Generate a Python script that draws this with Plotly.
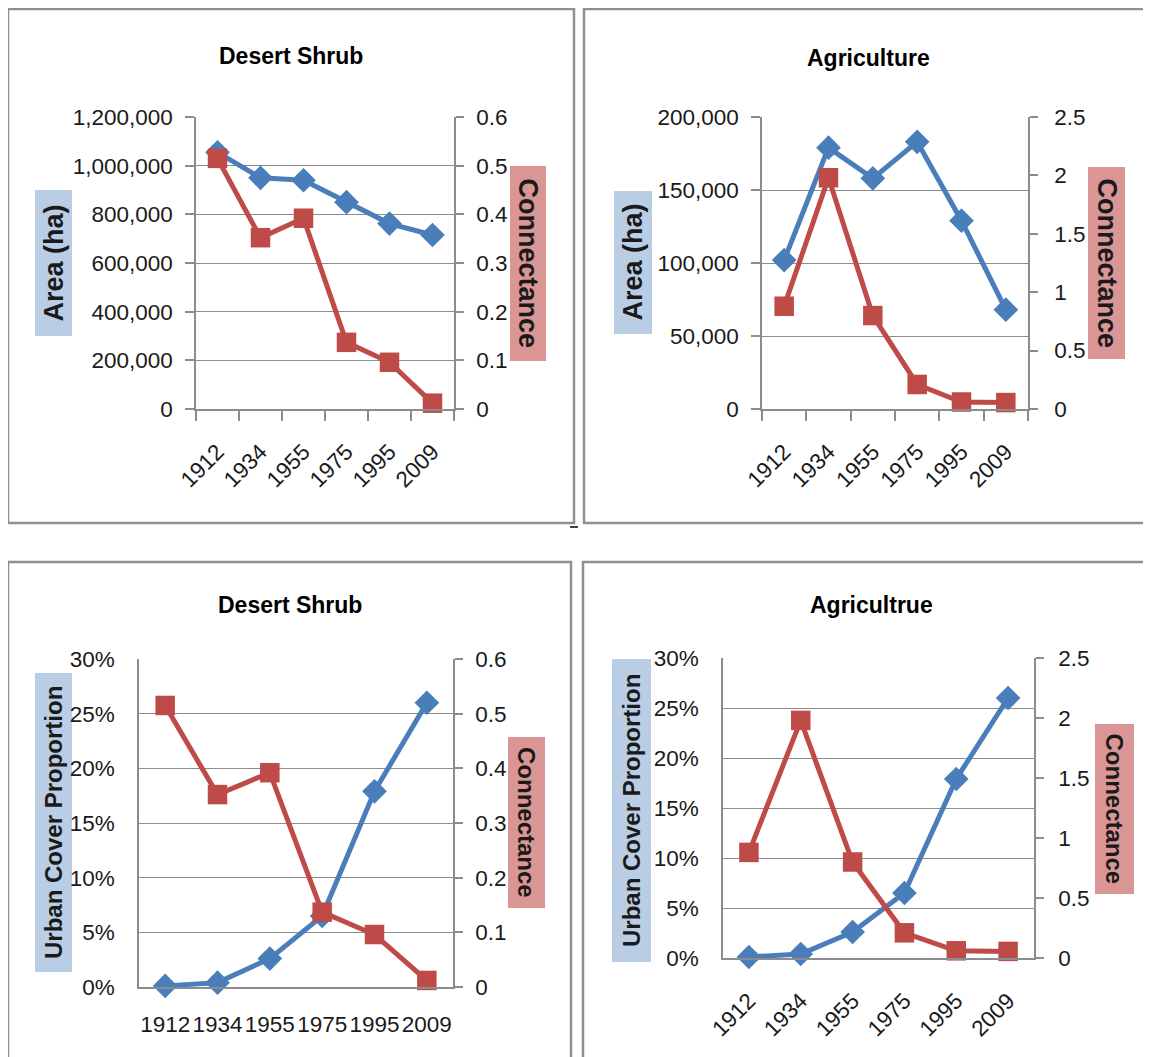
import plotly.graph_objects as go

# page body has an 8px margin, so the figure is drawn 8px in from the window corner
OFF = 8
W, H = 1151 - OFF, 1057 - OFF

years = ["1912", "1934", "1955", "1975", "1995", "2009"]
shrub_area = [1055000, 950000, 940000, 850000, 762000, 715000]
shrub_conn = [0.515, 0.352, 0.392, 0.137, 0.096, 0.012]
agri_area = [102000, 179000, 158000, 183000, 129000, 68000]
agri_conn = [0.88, 1.98, 0.80, 0.21, 0.06, 0.055]
urban_prop = [0.001, 0.004, 0.026, 0.065, 0.179, 0.260]

titles = ["Desert Shrub", "Agriculture", "Desert Shrub", "Agricultrue"]
left_titles = ["Area (ha)", "Area (ha)", "Urban Cover Proportion", "Urban Cover Proportion"]
right_title = "Connectance"

BLUE = "#4A7EBB"
RED = "#BE4B48"
GRID = "#8C8C8C"
TXT = "#1a1a1a"
FONT = "Liberation Sans, Arial, sans-serif"


def px(x):
    return (x - OFF) / W


def py(y):
    return 1 - (y - OFF) / H


panels = [
    dict(plot=(196, 454, 117, 409), title=(291, 56), lbox=(35, 72, 190, 336), rbox=(510, 546, 166, 361),
         border=(8, 574, 9, 523), left=(shrub_area, [0, 1200000], 200000, ",d", True),
         right=(shrub_conn, [0, 0.6], 0.1), angle=-45, xticks=True, xstand=19, lstand=8, rstand=8,
         lfs=27, rfs=27),
    dict(plot=(762, 1028, 117, 409), title=(868, 58), lbox=(614, 652, 191, 334), rbox=(1088, 1125, 167, 359),
         border=(584, 1150, 9, 523), left=(agri_area, [0, 200000], 50000, ",d", True),
         right=(agri_conn, [0, 2.5], 0.5), angle=-45, xticks=True, xstand=19, lstand=8, rstand=12,
         lfs=27, rfs=27),
    dict(plot=(139, 453, 659, 987), title=(290, 605), lbox=(35, 72, 673, 972), rbox=(508, 545, 737, 908),
         border=(8, 571, 562, 1070), left=(urban_prop, [0, 0.30], 0.05, ".0%", False),
         right=(shrub_conn, [0, 0.6], 0.1), angle=0, xticks=False, xstand=16, lstand=18, rstand=8,
         lfs=24, rfs=24),
    dict(plot=(723, 1034, 658, 958), title=(871, 605), lbox=(612, 651, 659, 962), rbox=(1095, 1134, 724, 894),
         border=(583, 1160, 562, 1070), left=(urban_prop, [0, 0.30], 0.05, ".0%", False),
         right=(agri_conn, [0, 2.5], 0.5), angle=-45, xticks=False, xstand=19, lstand=18, rstand=10,
         lfs=24, rfs=24),
]

fig = go.Figure()
shapes = []
annotations = []
layout = dict(width=W, height=H, margin=dict(l=0, r=0, t=0, b=0, autoexpand=False),
              paper_bgcolor="white", plot_bgcolor="rgba(0,0,0,0)", showlegend=False)

for i, p in enumerate(panels):
    n = i + 1
    xa = "x" if n == 1 else f"x{n}"
    ya_l = f"y{2 * n - 1}" if n > 1 else "y"
    ya_r = f"y{2 * n}"
    xkey = "xaxis" if n == 1 else f"xaxis{n}"
    ylkey = "yaxis" if n == 1 else f"yaxis{2 * n - 1}"
    yrkey = f"yaxis{2 * n}"
    x0, x1, y0, y1 = p["plot"]
    lvals, lrange, ldt, lfmt, lticks = p["left"]
    rvals, rrange, rdt = p["right"]

    fig.add_trace(go.Scatter(x=years, y=lvals, xaxis=xa, yaxis=ya_l, mode="lines+markers",
                             line=dict(color=BLUE, width=5),
                             marker=dict(symbol="diamond", size=19, color=BLUE), cliponaxis=False))
    fig.add_trace(go.Scatter(x=years, y=rvals, xaxis=xa, yaxis=ya_r, mode="lines+markers",
                             line=dict(color=RED, width=5),
                             marker=dict(symbol="square", size=19.5, color=RED), cliponaxis=False))

    layout[xkey] = dict(domain=[px(x0), px(x1)], anchor=ya_l, type="category", automargin=False,
                        showline=True, linecolor=GRID, linewidth=1.5, showgrid=False,
                        ticks="outside" if p["xticks"] else "", tickson="boundaries",
                        ticklen=10, tickcolor=GRID, tickwidth=1.5, ticklabelstandoff=p["xstand"],
                        tickangle=p["angle"], tickfont=dict(family=FONT, size=22.5, color=TXT),
                        range=[-0.5, 5.5], fixedrange=True)
    layout[ylkey] = dict(domain=[py(y1), py(y0)], anchor=xa, range=lrange, dtick=ldt, tick0=0,
                         tickformat=lfmt, showline=True, linecolor=GRID, linewidth=1.5, automargin=False,
                         showgrid=True, gridcolor=GRID, gridwidth=1.2, zeroline=False,
                         ticks="outside" if lticks else "", ticklen=9, tickcolor=GRID, tickwidth=1.5,
                         ticklabelstandoff=p["lstand"],
                         tickfont=dict(family=FONT, size=22.5, color=TXT), fixedrange=True)
    layout[yrkey] = dict(overlaying=ya_l, anchor=xa, side="right", range=rrange, dtick=rdt, tick0=0,
                         showline=True, linecolor=GRID, linewidth=1.5, showgrid=False, zeroline=False,
                         automargin=False, ticks="outside", ticklen=8, tickcolor=GRID, tickwidth=1.5,
                         ticklabelstandoff=p["rstand"],
                         tickfont=dict(family=FONT, size=22.5, color=TXT), fixedrange=True)

    bx0, bx1, by0, by1 = p["border"]
    shapes.append(dict(type="rect", xref="paper", yref="paper", x0=px(bx0), x1=px(bx1),
                       y0=py(by1), y1=py(by0), line=dict(color="#8f8f8f", width=2.5), layer="below"))
    lx0, lx1, ly0, ly1 = p["lbox"]
    shapes.append(dict(type="rect", xref="paper", yref="paper", x0=px(lx0), x1=px(lx1),
                       y0=py(ly1), y1=py(ly0), fillcolor="#B9CDE5", line=dict(width=0), layer="below"))
    rx0, rx1, ry0, ry1 = p["rbox"]
    shapes.append(dict(type="rect", xref="paper", yref="paper", x0=px(rx0), x1=px(rx1),
                       y0=py(ry1), y1=py(ry0), fillcolor="#D99694", line=dict(width=0), layer="below"))

    annotations.append(dict(text=left_titles[i], xref="paper", yref="paper",
                            x=px((lx0 + lx1) / 2), y=py((ly0 + ly1) / 2), showarrow=False,
                            textangle=-90, xanchor="center", yanchor="middle",
                            font=dict(family=FONT, size=p["lfs"], color=TXT, weight="bold")))
    annotations.append(dict(text=right_title, xref="paper", yref="paper",
                            x=px((rx0 + rx1) / 2), y=py((ry0 + ry1) / 2), showarrow=False,
                            textangle=90, xanchor="center", yanchor="middle",
                            font=dict(family=FONT, size=p["rfs"], color=TXT, weight="bold")))
    tx, ty = p["title"]
    annotations.append(dict(text=titles[i], xref="paper", yref="paper", x=px(tx), y=py(ty),
                            showarrow=False, xanchor="center", yanchor="middle",
                            font=dict(family=FONT, size=23, color="black", weight="bold")))

shapes.append(dict(type="line", xref="paper", yref="paper", x0=px(570), x1=px(578), y0=py(527), y1=py(527),
                   line=dict(color="black", width=1.5)))

layout["shapes"] = shapes
layout["annotations"] = annotations
fig.update_layout(**layout)
fig.write_html("out.html")
